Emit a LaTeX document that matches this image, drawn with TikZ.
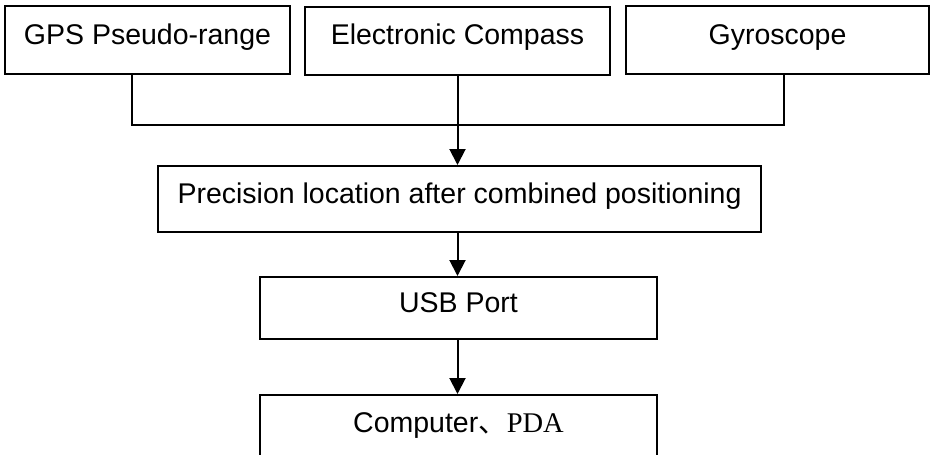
\documentclass[tikz,border=0pt]{standalone}
\usepackage{fontspec}
\setmainfont{Liberation Sans}
\newfontfamily\serifpda{Liberation Serif}
\newfontfamily\cjk{Noto Sans CJK SC}
\usetikzlibrary{arrows.meta}
\tikzset{
  box/.style={draw, rectangle, line width=2pt, inner sep=0pt,
    text height=24pt, text depth=16pt, font=\fontsize{28.5}{34}\selectfont},
  conn/.style={line width=2pt},
  arr/.style={line width=2pt, -{Triangle[width=16pt,length=16pt]}}
}
\begin{document}
\begin{tikzpicture}[x=1pt,y=-1pt]
\useasboundingbox (0,0) rectangle (930,455);
\node[box, minimum width=285pt, minimum height=68pt] (b1) at (147.5,40) {GPS Pseudo-range};
\node[box, minimum width=305pt, minimum height=68pt] (b2) at (457.5,41) {Electronic Compass};
\node[box, minimum width=303pt, minimum height=68pt] (b3) at (777.5,40) {Gyroscope};
\node[box, minimum width=603pt, minimum height=66pt] (b4) at (459.5,199) {Precision location after combined positioning};
\node[box, minimum width=397pt, minimum height=62pt] (b5) at (458.5,308) {USB Port};
\node[box, minimum width=397pt, minimum height=66pt] (b6) at (458.5,428) {Computer{\cjk 、}{\serifpda PDA}};
\coordinate (j1) at (132,125);
\coordinate (j3) at (784,125);
\draw[conn] (b1.south -| j1) -- (j1) -- (j3) -- (b3.south -| j3);
\draw[arr] (b2.south) -- (b2.south |- b4.north);
\draw[arr] (b4.south -| b2.south) -- (b5.north -| b2.south);
\draw[arr] (b5.south -| b2.south) -- (b6.north -| b2.south);
\end{tikzpicture}
\end{document}
